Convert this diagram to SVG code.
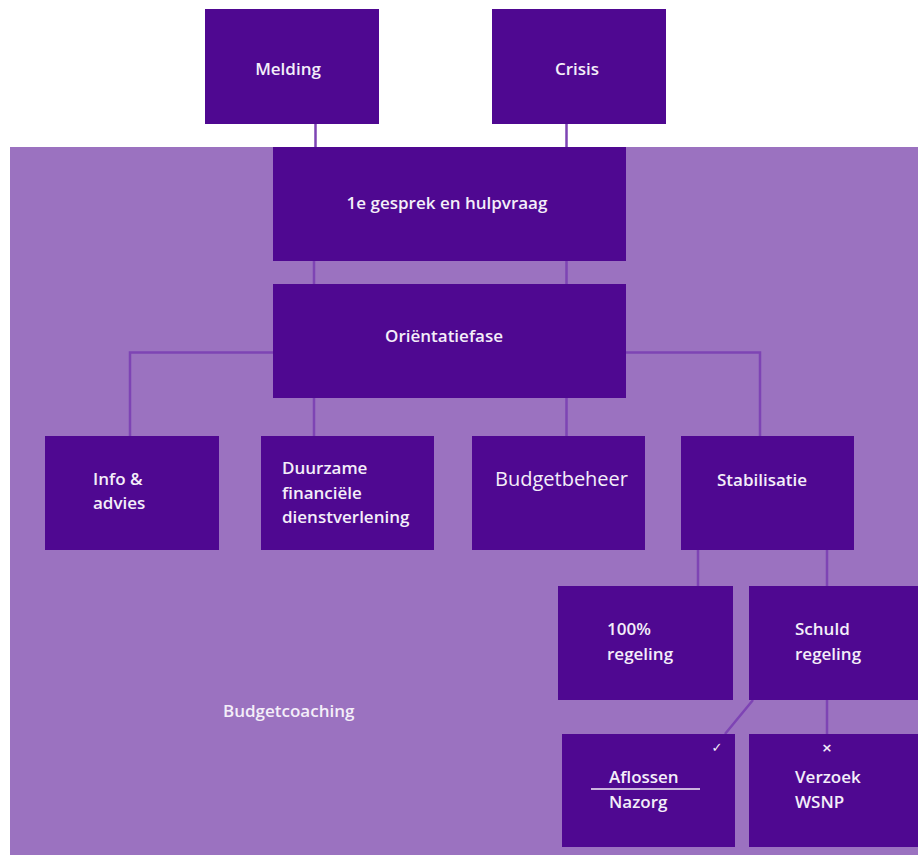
<svg xmlns="http://www.w3.org/2000/svg" width="918" height="855" viewBox="0 0 918 855">
<style>
.box{fill:#4f0891}
.t{font-family:"Open Sans","Noto Sans","Liberation Sans",sans-serif;font-size:17px;font-weight:600;fill:#f4eef9}
.tc{text-anchor:middle}
.reg{font-weight:400;font-size:20px}
.c{stroke:#7e44b4;stroke-width:2.5;fill:none}
.sym{font-family:"DejaVu Sans",sans-serif;font-size:13px;fill:#f4eef9;text-anchor:middle;font-weight:700}
</style>
<rect x="0" y="0" width="918" height="855" fill="#ffffff"/>
<g id="budgetcoaching">
<rect x="10" y="147" width="908" height="708" fill="#9b72c0"/>
<text class="t" x="223" y="717">Budgetcoaching</text>
</g>
<g id="connectors">
<path class="c" d="M315.5 124V147M566.5 124V147"/>
<path class="c" d="M314 261V284M566.5 261V284"/>
<path class="c" d="M273 352.5H130V436M626 352.5H760V436"/>
<path class="c" d="M314 398V436M566.5 398V436"/>
<path class="c" d="M698 550V586M827 550V586"/>
<path class="c" d="M753 700L725 734M827 700V734"/>
</g>
<g id="melding"><rect class="box" x="205" y="9" width="174" height="115"/><text class="t tc" x="288" y="75">Melding</text></g>
<g id="crisis"><rect class="box" x="492" y="9" width="174" height="115"/><text class="t tc" x="577" y="75">Crisis</text></g>
<g id="gesprek"><rect class="box" x="273" y="147" width="353" height="114"/><text class="t tc" x="447" y="209">1e gesprek en hulpvraag</text></g>
<g id="orientatie"><rect class="box" x="273" y="284" width="353" height="114"/><text class="t tc" x="444" y="342">Oriëntatiefase</text></g>
<g id="info"><rect class="box" x="45" y="436" width="174" height="114"/><text class="t" x="93" y="485">Info &amp;</text><text class="t" x="93" y="509">advies</text></g>
<g id="duurzame"><rect class="box" x="261" y="436" width="173" height="114"/><text class="t" x="282" y="474">Duurzame</text><text class="t" x="282" y="498.5">financiële</text><text class="t" x="282" y="523">dienstverlening</text></g>
<g id="budgetbeheer"><rect class="box" x="472" y="436" width="173" height="114"/><text class="t reg" x="495" y="486">Budgetbeheer</text></g>
<g id="stabilisatie"><rect class="box" x="681" y="436" width="173" height="114"/><text class="t" x="717" y="486">Stabilisatie</text></g>
<g id="honderd"><rect class="box" x="558" y="586" width="175" height="114"/><text class="t" x="607" y="635">100%</text><text class="t" x="607" y="660">regeling</text></g>
<g id="schuld"><rect class="box" x="749" y="586" width="169" height="114"/><text class="t" x="795" y="635">Schuld</text><text class="t" x="795" y="660">regeling</text></g>
<g id="aflossen"><rect class="box" x="562" y="734" width="173" height="113"/><text class="sym" x="717" y="752">✓</text><text class="t" x="609" y="783">Aflossen</text><line x1="591" y1="789" x2="700" y2="789" stroke="#f4eef9" stroke-width="1.5"/><text class="t" x="609" y="808">Nazorg</text></g>
<g id="verzoek"><rect class="box" x="749" y="734" width="169" height="113"/><text class="sym" x="827" y="752">×</text><text class="t" x="795" y="783">Verzoek</text><text class="t" x="795" y="808">WSNP</text></g>
</svg>
